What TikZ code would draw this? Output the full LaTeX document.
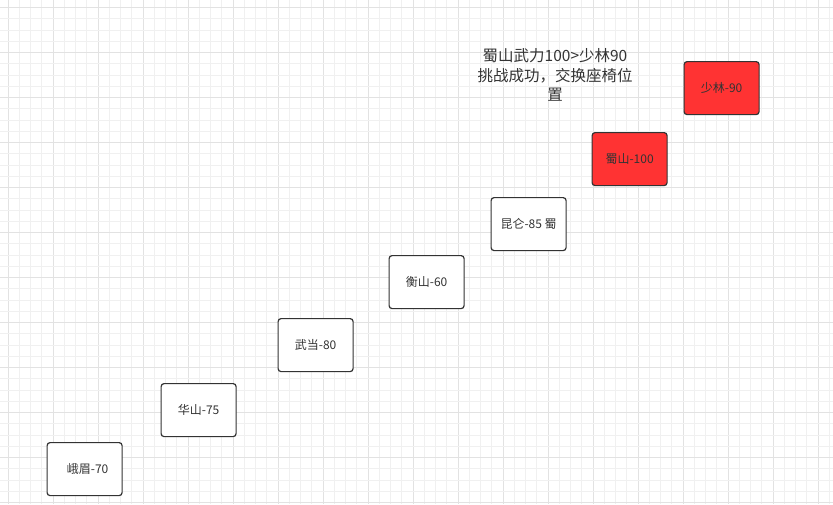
\documentclass[tikz,border=0pt]{standalone}
\usepackage{fontspec}
\setmainfont{Noto Sans CJK SC}
\begin{document}
\begin{tikzpicture}[x=1pt,y=-1pt,
  gminor/.style={draw={rgb,255:red,240;green,240;blue,240},line width=0.9pt},
  gmajor/.style={draw={rgb,255:red,226;green,226;blue,226},line width=0.9pt},
  seat/.style={draw={rgb,255:red,51;green,51;blue,51},line width=1.2pt,rounded corners=3pt,
    minimum width=75pt,minimum height=53pt,inner sep=0pt,anchor=north west,
    font=\fontsize{12pt}{14pt}\selectfont,text={rgb,255:red,51;green,51;blue,51}},
  hot/.style={seat,fill={rgb,255:red,255;green,51;blue,51}},
  cold/.style={seat,fill=white},
  note/.style={font=\fontsize{15.5pt}{19.5pt}\selectfont,align=center,
    text={rgb,255:red,51;green,51;blue,51},inner sep=0pt}]
\fill[white] (0,0) rectangle (833,504);
\useasboundingbox (0,0) rectangle (833,504);
\foreach \k in {0,...,73}{
  \pgfmathtruncatemacro{\m}{mod(\k,4)}
  \ifnum\m=0 \draw[gmajor] ({8+11.25*\k},0) -- ({8+11.25*\k},504);
  \else \draw[gminor] ({8+11.25*\k},0) -- ({8+11.25*\k},504); \fi
}
\foreach \k in {0,...,44}{
  \pgfmathtruncatemacro{\m}{mod(\k,4)}
  \ifnum\m=0 \draw[gmajor] (0,{7.5+11.25*\k}) -- (833,{7.5+11.25*\k});
  \else \draw[gminor] (0,{7.5+11.25*\k}) -- (833,{7.5+11.25*\k}); \fi
}
\node[cold] (emei) at (46.5,442) {\hspace{6pt}峨眉-70};
\node[cold] (huashan) at (160.5,383) {华山-75};
\node[cold] (wudang) at (277.5,318) {武当-80};
\node[cold] (hengshan) at (388.5,255) {衡山-60};
\node[cold] (kunlun) at (490.5,197) {昆仑-85 蜀};
\node[hot] (shushan) at (591.5,132) {蜀山-100};
\node[hot] (shaolin) at (683.5,61) {少林-90};
\node[note] (msg) at (555,75) {蜀山武力100>少林90\\挑战成功，交换座椅位\\置};
\end{tikzpicture}
\end{document}
